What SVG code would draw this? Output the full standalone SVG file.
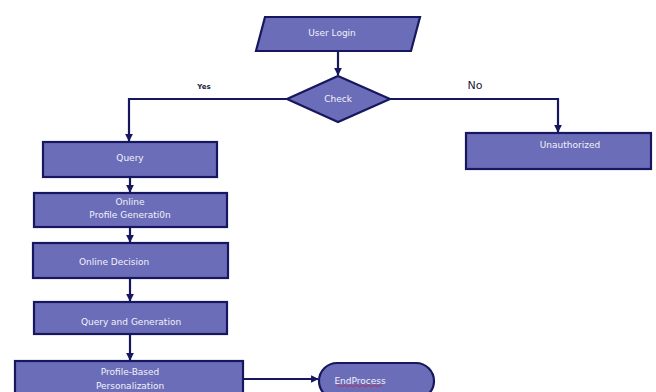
<svg xmlns="http://www.w3.org/2000/svg" width="656" height="392" viewBox="0 0 656 392">
<defs>
<marker id="arr" viewBox="0 0 10 10" refX="9" refY="5" markerWidth="3.5" markerHeight="3.5" orient="auto" markerUnits="strokeWidth">
<path d="M0,0 L10,5 L0,10 z" fill="#17175f"/>
</marker>
<style>
.n{fill:#6b6db8;stroke:#17175f;stroke-width:2.2}
.t{font-family:"DejaVu Sans",Verdana,sans-serif;font-size:9px;fill:#f2f2fa;text-anchor:middle}
.c{fill:none;stroke:#17175f;stroke-width:2.2}
.l{font-family:"DejaVu Sans",Verdana,sans-serif;fill:#1a1a40;text-anchor:middle}
</style>
</defs>
<rect width="656" height="392" fill="#ffffff"/>
<g id="connectors">
<path class="c" d="M338,51 V75" marker-end="url(#arr)"/>
<path class="c" d="M287,99 H129 V141" marker-end="url(#arr)"/>
<path class="c" d="M390,99 H558 V132" marker-end="url(#arr)"/>
<path class="c" d="M130,177 V192" marker-end="url(#arr)"/>
<path class="c" d="M130,227 V242" marker-end="url(#arr)"/>
<path class="c" d="M130,278 V301" marker-end="url(#arr)"/>
<path class="c" d="M130,334 V360" marker-end="url(#arr)"/>
<path class="c" d="M243,379 H318" marker-end="url(#arr)"/>
<text class="l" x="204" y="89" font-size="7" font-weight="bold">Yes</text>
<text class="l" x="475" y="89" font-size="11">No</text>
</g>
<g id="user-login">
<polygon class="n" points="265,17 420,17 411,51 256,51"/>
<text class="t" x="332" y="36">User Login</text>
</g>
<g id="check">
<polygon class="n" points="338,76 390,99 338,122 287,99"/>
<text class="t" x="338" y="102">Check</text>
</g>
<g id="query">
<rect class="n" x="43" y="142" width="174" height="35"/>
<text class="t" x="130" y="161">Query</text>
</g>
<g id="unauthorized">
<rect class="n" x="466" y="133" width="185" height="36"/>
<text class="t" x="570" y="148">Unauthorized</text>
</g>
<g id="online-profile">
<rect class="n" x="34" y="193" width="193" height="34"/>
<text class="t" x="130" y="205">Online</text>
<text class="t" x="130" y="218">Profile Generati0n</text>
</g>
<g id="online-decision">
<rect class="n" x="33" y="243" width="195" height="35"/>
<text class="t" x="114" y="265">Online Decision</text>
</g>
<g id="query-generation">
<rect class="n" x="34" y="302" width="193" height="32"/>
<text class="t" x="131" y="325">Query and Generation</text>
</g>
<g id="profile-based">
<rect class="n" x="15" y="361" width="228" height="40"/>
<text class="t" x="130" y="375">Profile-Based</text>
<text class="t" x="130" y="389">Personalization</text>
</g>
<g id="end-process">
<rect class="n" x="319" y="363" width="115" height="36" rx="18" ry="18"/>
<text class="t" x="360" y="384">EndProcess</text>
<path d="M337,386 q1.5,-1.5 3,0 t3,0 t3,0 t3,0 t3,0 t3,0 t3,0 t3,0 t3,0 t3,0 t3,0 t3,0 t3,0 t3,0 t3,0" fill="none" stroke="#d02030" stroke-width="0.8"/>
</g>
</svg>
